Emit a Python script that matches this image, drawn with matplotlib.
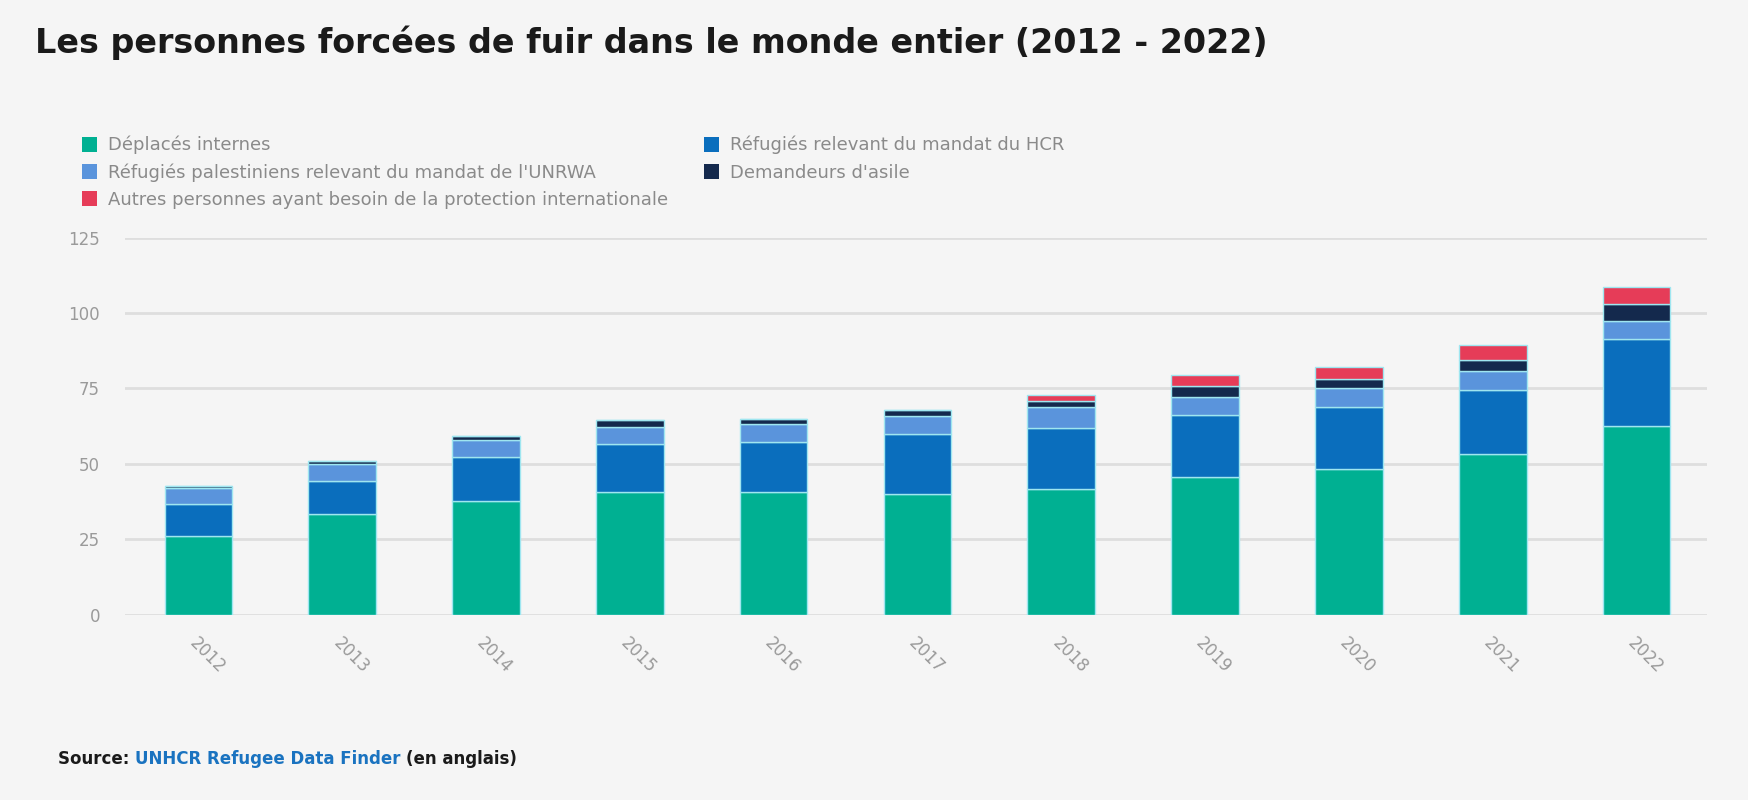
import matplotlib.pyplot as plt
from matplotlib.patches import Patch

# Data (millions of people)
years = ["2012", "2013", "2014", "2015", "2016", "2017", "2018", "2019", "2020", "2021", "2022"]
idp = [26.2, 33.5, 37.8, 40.7, 40.5, 40.1, 41.5, 45.6, 48.2, 53.4, 62.6]
hcr_refugees = [10.3, 10.9, 14.4, 15.9, 16.7, 19.7, 20.2, 20.5, 20.5, 21.2, 28.9]
unrwa_refugees = [5.6, 5.6, 5.8, 5.7, 6.0, 6.1, 7.0, 5.9, 6.4, 6.2, 6.0]
asylum = [0.4, 1.0, 1.2, 2.2, 1.8, 1.8, 2.0, 3.7, 3.0, 3.7, 5.6]
others = [0.0, 0.0, 0.0, 0.0, 0.0, 0.0, 2.2, 3.6, 4.0, 5.0, 5.5]

labels = [
    "Déplacés internes",
    "Réfugiés relevant du mandat du HCR",
    "Réfugiés palestiniens relevant du mandat de l'UNRWA",
    "Demandeurs d'asile",
    "Autres personnes ayant besoin de la protection internationale",
]
colors = ["#00b092", "#0a6ebd", "#5a94dc", "#14294d", "#e63c58"]
series = [idp, hcr_refugees, unrwa_refugees, asylum, others]

bg = "#f5f5f5"
fig = plt.figure(figsize=(17.49, 8), dpi=100, facecolor=bg)
ax = fig.add_axes([0.0715, 0.2318, 0.9045, 0.4712], facecolor=bg)

x = range(len(years))
bottom = [0.0] * len(years)
for vals, col in zip(series, colors):
    ax.bar(x, vals, bottom=bottom, width=0.47, color=col,
           edgecolor="#9fe6f0", linewidth=1.0, zorder=3)
    bottom = [b + v for b, v in zip(bottom, vals)]

ax.set_xlim(-0.51, 10.49)
ax.set_ylim(0, 125)
ax.set_yticks([0, 25, 50, 75, 100, 125])
ax.grid(axis="y", color="#dedede", linewidth=2, zorder=0)
ax.set_axisbelow(True)
for s in ax.spines.values():
    s.set_visible(False)
ax.tick_params(axis="both", length=0, colors="#9a9a9a", labelsize=12)
ax.tick_params(axis="y", pad=18)
ax.set_xticks(list(x))
ax.set_xticklabels(years, rotation=-45, ha="left", va="top",
                   rotation_mode="anchor", fontsize=12, color="#9a9a9a")
ax.tick_params(axis="x", pad=14)

# Title
fig.text(0.02, 1 - 43 / 800, "Les personnes forcées de fuir dans le monde entier (2012 - 2022)",
         fontsize=24, fontweight="bold", color="#1a1a1a", va="center", ha="left")

# Legend (column-first fill: IDP, UNRWA, autres | HCR, asile)
order = [0, 2, 4, 1, 3]
handles = [Patch(facecolor=colors[i], edgecolor="none") for i in order]
fig.legend(handles, [labels[i] for i in order], ncol=2, loc="upper left",
           bbox_to_anchor=(82 / 1749, 1 - 136 / 800), frameon=False,
           fontsize=13, labelcolor="#8a8a8a", handlelength=0.85, handleheight=0.9,
           handletextpad=0.6, labelspacing=0.5, columnspacing=1.95,
           borderaxespad=0, borderpad=0)

# Source line
fig.canvas.draw()
renderer = fig.canvas.get_renderer()
sx = 58 / 1749
sy = 1 - 759 / 800
parts = [("Source: ", "#1a1a1a"), ("UNHCR Refugee Data Finder ", "#1a73c0"), ("(en anglais)", "#1a1a1a")]
for txt, col in parts:
    t = fig.text(sx, sy, txt, fontsize=12, fontweight="bold", color=col, va="center", ha="left")
    bb = t.get_window_extent(renderer=renderer)
    sx += bb.width / fig.bbox.width

fig.savefig("out.png", dpi=100, facecolor=bg)
